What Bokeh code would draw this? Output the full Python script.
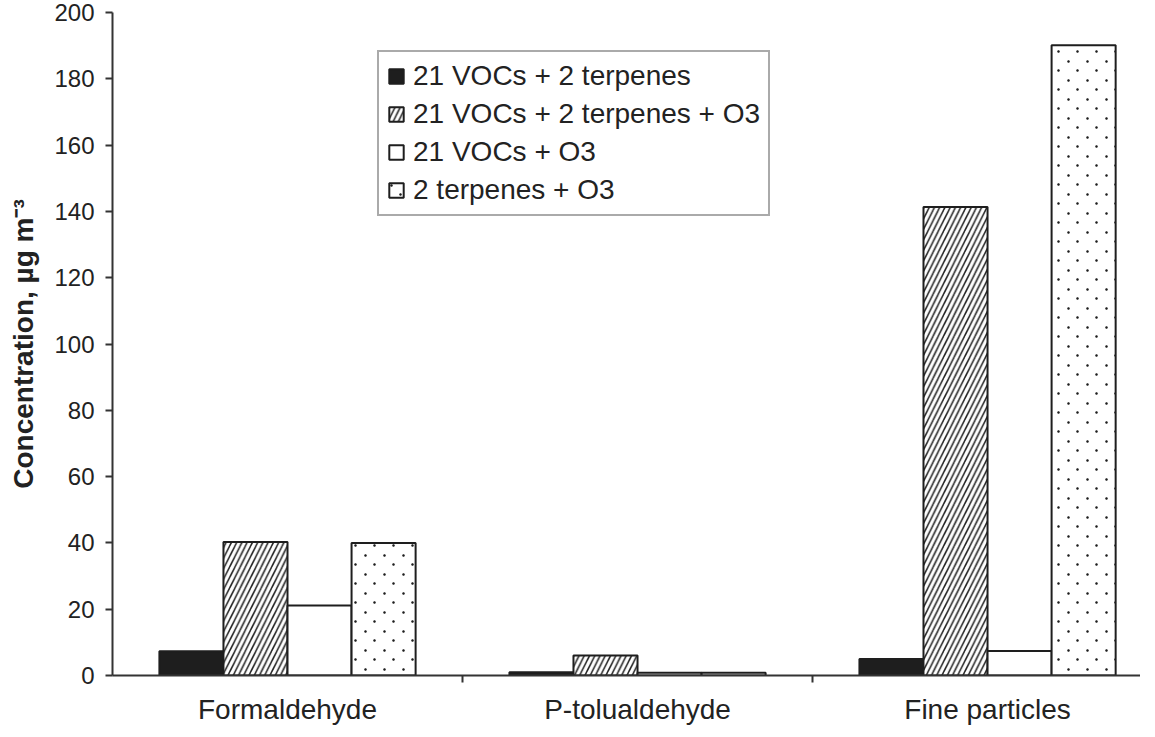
import zlib, struct, base64
import numpy as np
from bokeh.plotting import figure
from bokeh.models import Range1d, FixedTicker, ImageURLTexture
from bokeh.core.properties import value
from bokeh.embed import file_html
from bokeh.resources import INLINE

# ---- data ----
categories = ["Formaldehyde", "P-tolualdehyde", "Fine particles"]
series_names = ["21 VOCs + 2 terpenes", "21 VOCs + 2 terpenes + O3",
                "21 VOCs + O3", "2 terpenes + O3"]
voc_terp = [7.3, 1.0, 5.0]
voc_terp_o3 = [40.3, 6.0, 141.3]
voc_o3 = [21.1, 0.8, 7.4]
terp_o3 = [40.0, 0.8, 190.1]
y_ticks = [0, 20, 40, 60, 80, 100, 120, 140, 160, 180, 200]
y_title = "Concentration, \u00b5g m\u207b\u00b3"

FONT = "Liberation Sans"
INK = "#1e1e1e"


def dot_tile_png(size=19, centers=((4, 4), (13, 13))):
    """Small transparent PNG tile with staggered dots (fill texture)."""
    px = [[(0, 0, 0, 0) for _ in range(size)] for _ in range(size)]
    for cx, cy in centers:
        for dx in (-1, 0, 1):
            for dy in (-1, 0, 1):
                a = 255 if (dx == 0 and dy == 0) else (190 if dx == 0 or dy == 0 else 70)
                px[(cy + dy) % size][(cx + dx) % size] = (30, 30, 30, a)
    raw = b"".join(b"\x00" + bytes(v for p_ in row for v in p_) for row in px)

    def chunk(t, d):
        c = struct.pack(">I", len(d)) + t + d
        return c + struct.pack(">I", zlib.crc32(t + d) & 0xFFFFFFFF)

    png = (b"\x89PNG\r\n\x1a\n"
           + chunk(b"IHDR", struct.pack(">IIBBBBB", size, size, 8, 6, 0, 0, 0))
           + chunk(b"IDAT", zlib.compress(raw))
           + chunk(b"IEND", b""))
    return "data:image/png;base64," + base64.b64encode(png).decode()


p = figure(width=1140, height=728,
           x_range=Range1d(0, 2.937), y_range=Range1d(0, 200),
           output_backend="svg", toolbar_location=None,
           min_border_left=112, min_border_right=0,
           min_border_top=12, min_border_bottom=53)
p.grid.visible = False
p.outline_line_color = None
p.background_fill_color = "white"

dots = ImageURLTexture(url=dot_tile_png())

centers = np.arange(len(categories)) + 0.5
bar_w = 0.183
offsets = [-1.5, -0.5, 0.5, 1.5]
styles = [
    dict(fill_color=INK),
    dict(fill_color="white", hatch_pattern="/", hatch_color="#222222",
         hatch_scale=10.5, hatch_weight=1.5),
    dict(fill_color="white"),
    dict(fill_color="white", hatch_pattern=value("dots"), hatch_extra={"dots": dots}),
]
for vals, name, off, st in zip([voc_terp, voc_terp_o3, voc_o3, terp_o3],
                               series_names, offsets, styles):
    p.vbar(x=centers + off * bar_w, top=vals, bottom=0, width=bar_w,
           line_color=INK, line_width=2, legend_label=name, **st)

# x axis
xa = p.xaxis[0]
xa.ticker = FixedTicker(ticks=[float(c) for c in centers], minor_ticks=[1.0, 2.0])
xa.major_label_overrides = {float(c): cat for c, cat in zip(centers, categories)}
xa.major_tick_out = 0
xa.major_tick_in = 0
xa.minor_tick_out = 7
xa.minor_tick_in = 0
xa.minor_tick_line_color = "#333333"
xa.minor_tick_line_width = 2
xa.axis_line_color = "#333333"
xa.axis_line_width = 2
xa.major_label_text_font = FONT
xa.major_label_text_font_size = "28px"
xa.major_label_text_color = "#222222"
xa.major_label_standoff = 11

# y axis
ya = p.yaxis[0]
ya.ticker = FixedTicker(ticks=y_ticks)
ya.major_tick_out = 7
ya.major_tick_in = 0
ya.major_tick_line_color = "#333333"
ya.major_tick_line_width = 2
ya.minor_tick_line_color = None
ya.axis_line_color = "#333333"
ya.axis_line_width = 2
ya.major_label_text_font = FONT
ya.major_label_text_font_size = "24px"
ya.major_label_text_color = "#222222"
ya.major_label_standoff = 11
ya.axis_label = y_title
ya.axis_label_text_font = FONT
ya.axis_label_text_font_style = "bold"
ya.axis_label_text_font_size = "28px"
ya.axis_label_text_color = "#222222"
ya.axis_label_standoff = 12

# legend
lg = p.legend[0]
lg.location = (265, 459)
lg.orientation = "vertical"
lg.label_text_font = FONT
lg.label_text_font_size = "28px"
lg.label_text_color = "#222222"
lg.glyph_width = 18
lg.glyph_height = 18
lg.label_standoff = 8
lg.padding = 8
lg.spacing = 6
lg.margin = 0
lg.border_line_color = "#555555"
lg.border_line_width = 2.5
lg.background_fill_color = "white"
lg.background_fill_alpha = 1

open("out.html", "w").write(file_html(p, INLINE))
